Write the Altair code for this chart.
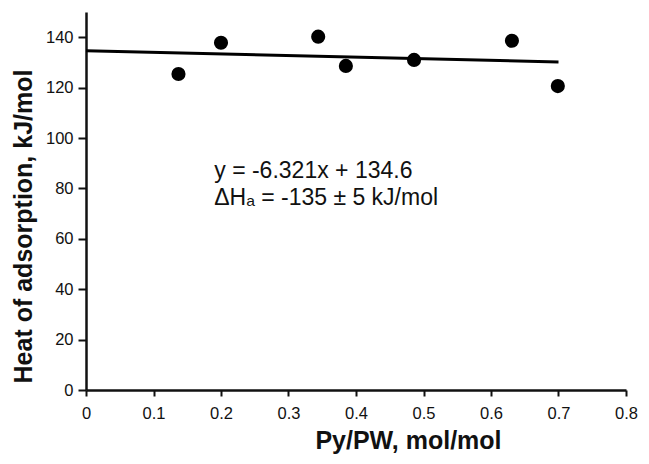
import altair as alt
import pandas as pd

# measured points
ratio = [0.137, 0.200, 0.344, 0.385, 0.486, 0.631, 0.699]
heat = [125.4, 137.8, 140.2, 128.6, 131.0, 138.6, 120.6]

# fitted line y = -6.321x + 134.6 (end points)
fit_x = [0.0, 0.7]
fit_y = [134.6, 130.2]

x_ticks = [0, 0.1, 0.2, 0.3, 0.4, 0.5, 0.6, 0.7, 0.8]
y_ticks = [0, 20, 40, 60, 80, 100, 120, 140]

ann_lines = ["y = -6.321x + 134.6", "\u0394H\u2090 = -135 \u00b1 5 kJ/mol"]
ann_x = [0.19, 0.19]
ann_y = [84.1, 73.4]

pts = pd.DataFrame({"x": ratio, "y": heat})
fit = pd.DataFrame({"x": fit_x, "y": fit_y})
ann = pd.DataFrame({"t": ann_lines, "x": ann_x, "y": ann_y})

FONT = "Liberation Sans"

xs = alt.Scale(domain=[0, 0.8], nice=False, zero=False)
ys = alt.Scale(domain=[0, 150], nice=False)

xaxis = alt.Axis(
    values=x_ticks,
    labelExpr="datum.value == 0 ? '0' : format(datum.value, '.1f')",
    title="Py/PW, mol/mol",
    titleFont=FONT, titleFontSize=25, titleFontWeight="bold", titleColor="#111",
    titleX=322, titleY=58, titleAnchor="start", titleAlign="center", titleBaseline="alphabetic",
    labelFont=FONT, labelFontSize=16.5, labelColor="#111", labelPadding=9,
    tickSize=6, tickWidth=2, tickColor="#111",
    domainColor="#111", domainWidth=2.5, grid=False, labelFlush=False, labelOverlap=False,
)
yaxis = alt.Axis(
    values=y_ticks,
    title="Heat of adsorption, kJ/mol",
    titleFont=FONT, titleFontSize=25, titleFontWeight="bold", titleColor="#111",
    titleX=-63, titleY=214, titleAngle=270, titleAlign="center", titleBaseline="middle",
    titleAnchor="start",
    labelFont=FONT, labelFontSize=16.5, labelColor="#111", labelPadding=5,
    tickSize=8, tickWidth=2, tickColor="#111",
    domainColor="#111", domainWidth=2.5, grid=False, labelFlush=False, labelOverlap=False,
)

points = alt.Chart(pts).mark_circle(size=200, color="black", opacity=1).encode(
    x=alt.X("x:Q", scale=xs, axis=xaxis),
    y=alt.Y("y:Q", scale=ys, axis=yaxis),
)

line = alt.Chart(fit).mark_line(color="black", strokeWidth=3).encode(
    x=alt.X("x:Q", scale=xs),
    y=alt.Y("y:Q", scale=ys),
)

text = alt.Chart(ann).mark_text(
    align="left", baseline="alphabetic", font=FONT, fontSize=23, color="#111"
).encode(
    x=alt.X("x:Q", scale=xs),
    y=alt.Y("y:Q", scale=ys),
    text="t:N",
)

chart = (
    alt.layer(line, points, text)
    .properties(
        width=540,
        height=378,
        autosize=alt.AutoSizeParams(type="none"),
        padding={"left": 78, "top": 4, "right": 15, "bottom": 66},
        background="white",
    )
    .configure_view(stroke=None)
)

chart.save("out.html", embed_options={"renderer": "svg", "actions": False})
